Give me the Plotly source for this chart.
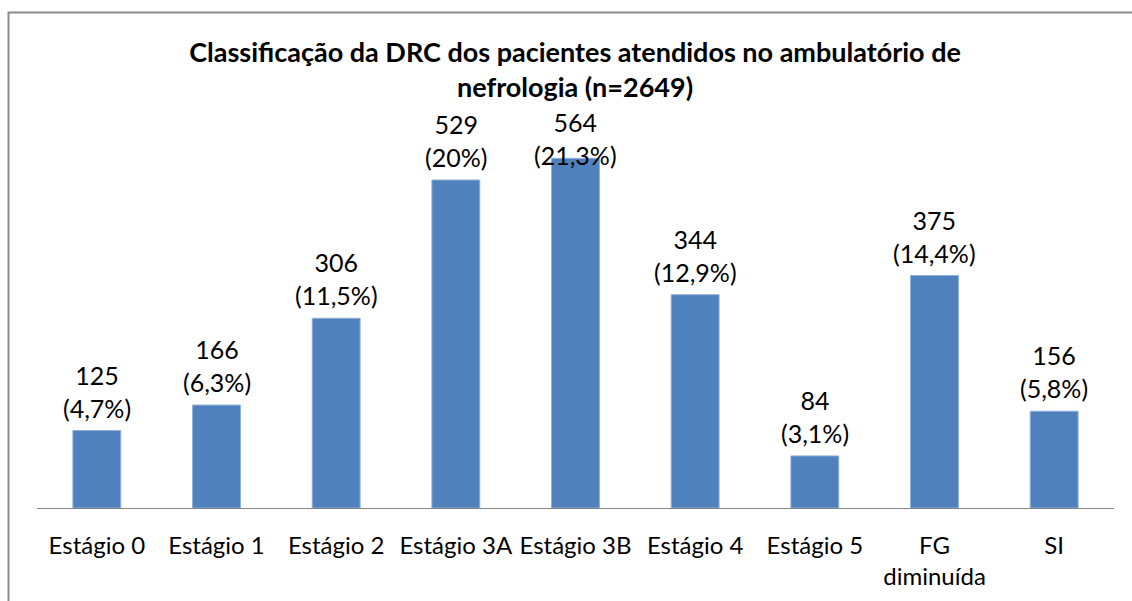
import plotly.graph_objects as go

categories = ["Estágio 0", "Estágio 1", "Estágio 2", "Estágio 3A", "Estágio 3B",
              "Estágio 4", "Estágio 5", "FG<br>diminuída", "SI"]
counts = [125, 166, 306, 529, 564, 344, 84, 375, 156]
percents = ["4,7%", "6,3%", "11,5%", "20%", "21,3%", "12,9%", "3,1%", "14,4%", "5,8%"]
title_text = "Classificação da DRC dos pacientes atendidos no ambulatório de<br>nefrologia (n=2649)"

FONT = "Lato"
W, H = 1132, 601
L, R, T, B = 37, 18, 136, 93

fig = go.Figure()
fig.add_trace(go.Bar(
    x=categories, y=counts,
    marker=dict(color="#4F81BD", line=dict(color="#8EAFD8", width=1)),
    width=0.4, hoverinfo="skip",
))

for i, (c, v, p) in enumerate(zip(categories, counts, percents)):
    shift = -14 if i == 4 else 6
    fig.add_annotation(x=c, y=v, text=f"{v}<br>({p})", showarrow=False,
                       yanchor="bottom", yshift=shift,
                       font=dict(family=FONT, size=25, color="#000000"))

pw, ph = W - L - R, H - T - B
def px(x): return (x - L) / pw
def py(y): return (H - B - y) / ph

fig.add_shape(type="rect", xref="paper", yref="paper",
              x0=px(8.5), x1=px(1145), y0=py(612), y1=py(12.5),
              line=dict(color="#8C8C8C", width=2), fillcolor="rgba(0,0,0,0)",
              layer="below")

fig.update_layout(
    width=W, height=H,
    margin=dict(l=L, r=R, t=T, b=B),
    paper_bgcolor="white", plot_bgcolor="white",
    showlegend=False,
    title=dict(text="<b>" + title_text + "</b>", x=0.508, xanchor="center",
               y=1 - 62 / H, yanchor="middle",
               font=dict(family=FONT, size=27, color="#000000")),
    xaxis=dict(showline=True, linecolor="#868686", linewidth=1,
               ticks="", ticklabelstandoff=16,
               tickfont=dict(family=FONT, size=24, color="#000000"),
               showgrid=False, fixedrange=True),
    yaxis=dict(range=[0, 600], visible=False, showgrid=False, fixedrange=True),
    bargap=0.6,
)

fig.write_html("out.html", config={"displayModeBar": False},
               post_script="document.body.style.margin='0';document.body.style.overflow='hidden';")
